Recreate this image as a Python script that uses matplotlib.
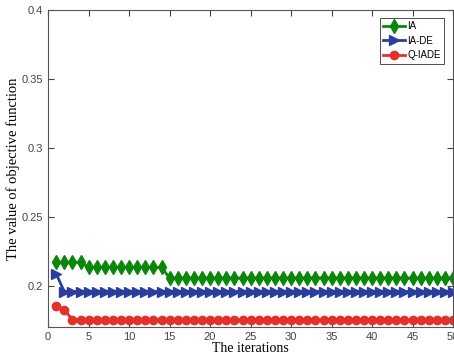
import matplotlib
matplotlib.use("Agg")
import matplotlib.pyplot as plt
import numpy as np

iters = list(range(1, 51))
ia = [0.217]*4 + [0.2133]*10 + [0.2056]*36
iade = [0.2085] + [0.1957]*49
qiade = [0.1855, 0.1824] + [0.1754]*48

fig = plt.figure(figsize=(4.54, 3.59), dpi=100)
ax = fig.add_axes([0.106, 0.089, 0.892, 0.883])
ax.plot(iters, ia, color='#0a870a', marker='d', markersize=7, linewidth=2, label='IA')
ax.plot(iters, iade, color='#2b3d9e', marker='>', markersize=7, linewidth=2, label='IA-DE')
ax.plot(iters, qiade, color='#e3312a', marker='o', markersize=6, linewidth=2, label='Q-IADE')

ax.set_xlim(0, 50)
ax.set_ylim(0.17, 0.4)
ax.set_xticks(np.arange(0, 51, 5))
ax.set_yticks([0.2, 0.25, 0.3, 0.35, 0.4])
ax.set_yticklabels(['0.2', '0.25', '0.3', '0.35', '0.4'])
ax.tick_params(direction='in', top=True, right=True, labelsize=8, colors='#444444', length=4)
for lab in ax.get_xticklabels() + ax.get_yticklabels():
    lab.set_family('Liberation Sans')
for s in ax.spines.values():
    s.set_color('#555555')
    s.set_linewidth(0.8)
ax.set_xlabel('The iterations', family='Liberation Serif', fontsize=10, labelpad=0)
ax.set_ylabel('The value of objective function', family='Liberation Serif', fontsize=10.5, labelpad=1)
leg = ax.legend(loc='upper right', prop={'family': 'Liberation Sans', 'size': 7},
                fancybox=False, edgecolor='#333333', framealpha=1, handlelength=2.3,
                borderpad=0.35, labelspacing=0.45, handletextpad=0.2,
                bbox_to_anchor=(0.99, 0.99))
leg.get_frame().set_linewidth(0.6)
fig.savefig('out.png', dpi=100)
